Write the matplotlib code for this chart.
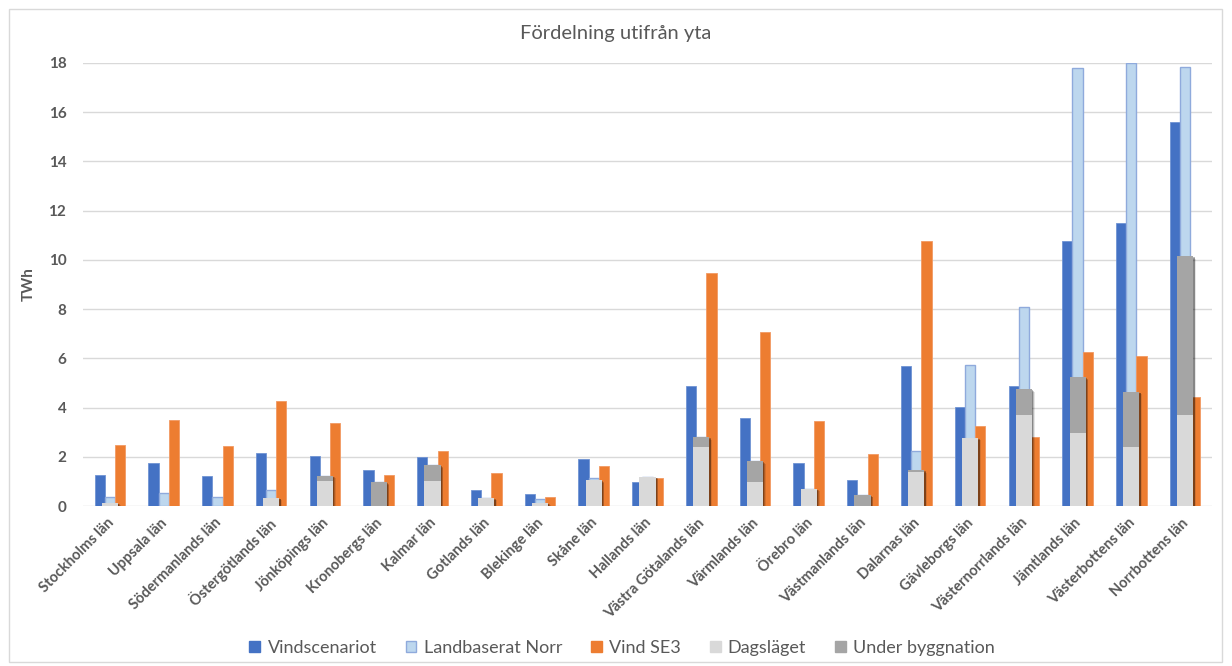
import matplotlib
matplotlib.use("Agg")
import matplotlib.pyplot as plt
from matplotlib.patches import Patch, Rectangle
from matplotlib.transforms import ScaledTranslation
import numpy as np

plt.rcParams['font.family'] = ['Lato', 'DejaVu Sans']

counties = ["Stockholms län", "Uppsala län", "Södermanlands län", "Östergötlands län",
            "Jönköpings län", "Kronobergs län", "Kalmar län", "Gotlands län",
            "Blekinge län", "Skåne län", "Hallands län", "Västra Götalands län",
            "Värmlands län", "Örebro län", "Västmanlands län", "Dalarnas län",
            "Gävleborgs län", "Västernorrlands län", "Jämtlands län",
            "Västerbottens län", "Norrbottens län"]

vindscenariot = [1.25, 1.75, 1.23, 2.14, 2.05, 1.47, 2.00, 0.66, 0.47, 1.93, 0.97,
                 4.86, 3.56, 1.74, 1.06, 5.69, 4.03, 4.86, 10.77, 11.49, 15.59]
landbaserat_norr = [0.37, 0.51, 0.37, 0.64, 1.23, 0.96, 1.66, 0.33, 0.29, 1.14, 1.19,
                    2.79, 1.81, 0.71, 0.45, 2.23, 5.72, 8.08, 17.78, 18.0, 17.84]
vind_se3 = [2.48, 3.49, 2.45, 4.26, 3.38, 1.25, 2.23, 1.33, 0.38, 1.64, 1.15,
            9.48, 7.07, 3.44, 2.12, 10.77, 3.27, 2.81, 6.26, 6.08, 4.43]
dagslaget = [0.14, 0.0, 0.0, 0.34, 1.01, 0.0, 1.01, 0.33, 0.14, 1.05, 1.19,
             2.38, 0.99, 0.71, 0.0, 1.38, 2.77, 3.68, 2.96, 2.38, 3.68]
under_byggnation = [0.0, 0.0, 0.0, 0.0, 0.22, 0.96, 0.65, 0.0, 0.0, 0.0, 0.0,
                    0.41, 0.82, 0.0, 0.45, 0.08, 0.0, 1.06, 2.27, 2.27, 6.46]

C_BLUE = "#4472C4"
C_LIGHT = "#BDD7EE"
C_LIGHT_EDGE = "#8FAADC"
C_ORANGE = "#ED7D31"
C_DAG = "#D9D9D9"
C_UB = "#A5A5A5"
TXT = "#595959"

fig = plt.figure(figsize=(12.32, 6.66), dpi=100)
ax = fig.add_axes([83 / 1232, 1 - 506 / 666, (1212 - 83) / 1232, (506 - 63) / 666])

x = np.arange(len(counties))
w = 0.19
wide = 0.30

ax.bar(x - w, vindscenariot, width=w, color=C_BLUE, edgecolor="#6F93D3", linewidth=0.6, zorder=3)
ax.bar(x, landbaserat_norr, width=w, color=C_LIGHT, edgecolor=C_LIGHT_EDGE, linewidth=1.0, zorder=3)
ax.bar(x + w, vind_se3, width=w, color=C_ORANGE, edgecolor="#F29A63", linewidth=0.6, zorder=3)

# soft shadow behind the stacked current-state bars
total = np.array(dagslaget) + np.array(under_byggnation)
for k, a in enumerate([0.10, 0.18, 0.28]):
    dx = 0.05 - k * 0.012
    ax.bar(x + dx, np.maximum(total - 0.1 + k * 0.03, 0), width=wide, color="black",
           alpha=a, linewidth=0, zorder=4)

ax.bar(x, dagslaget, width=wide, color=C_DAG, linewidth=0, zorder=5)
ax.bar(x, under_byggnation, bottom=dagslaget, width=wide, color=C_UB, linewidth=0, zorder=5)

ax.set_xlim(-0.5, len(counties) - 0.5)
ax.set_ylim(0, 18)
ax.set_yticks(np.arange(0, 19, 2))
ax.yaxis.grid(True, color="#D9D9D9", linewidth=1.0, zorder=0)
ax.set_axisbelow(True)
for s in ax.spines.values():
    s.set_visible(False)
ax.tick_params(axis="both", length=0)
ax.tick_params(axis="y", labelsize=11, labelcolor=TXT, pad=12)
for lbl in ax.get_yticklabels():
    lbl.set_fontweight("bold")

ax.set_xticks(x)
ax.set_xticklabels(counties, rotation=45, ha="right", rotation_mode="anchor",
                   fontsize=10.5, fontweight="bold", color=TXT)
ax.tick_params(axis="x", pad=7)
shift = ScaledTranslation(-2.5 / 72, 0, fig.dpi_scale_trans)
for lbl in ax.get_xticklabels():
    lbl.set_transform(lbl.get_transform() + shift)

ax.set_ylabel("TWh", fontsize=11, fontweight="bold", color=TXT)
ax.yaxis.set_label_coords(-0.042, 0.5)

fig.text(0.5, 1 - 33 / 666, "Fördelning utifrån yta", ha="center", va="center",
         fontsize=14.5, color=TXT)

handles = [Patch(facecolor=C_BLUE, edgecolor=C_BLUE),
           Patch(facecolor=C_LIGHT, edgecolor=C_LIGHT_EDGE),
           Patch(facecolor=C_ORANGE, edgecolor=C_ORANGE),
           Patch(facecolor=C_DAG, edgecolor=C_DAG),
           Patch(facecolor=C_UB, edgecolor=C_UB)]
labels = ["Vindscenariot", "Landbaserat Norr", "Vind SE3", "Dagsläget", "Under byggnation"]
leg = fig.legend(handles, labels, loc="center", bbox_to_anchor=(0.505, 1 - 648 / 666),
                 ncol=5, frameon=False, fontsize=13, handlelength=0.6, handleheight=0.6,
                 handletextpad=0.4, columnspacing=1.6)
for t in leg.get_texts():
    t.set_color(TXT)

fig.patches.append(Rectangle((9 / 1232, 4 / 666), 1213 / 1232, 653 / 666,
                             transform=fig.transFigure, fill=False,
                             edgecolor="#D9D9D9", linewidth=1.0))

fig.savefig("out.png", dpi=100)
